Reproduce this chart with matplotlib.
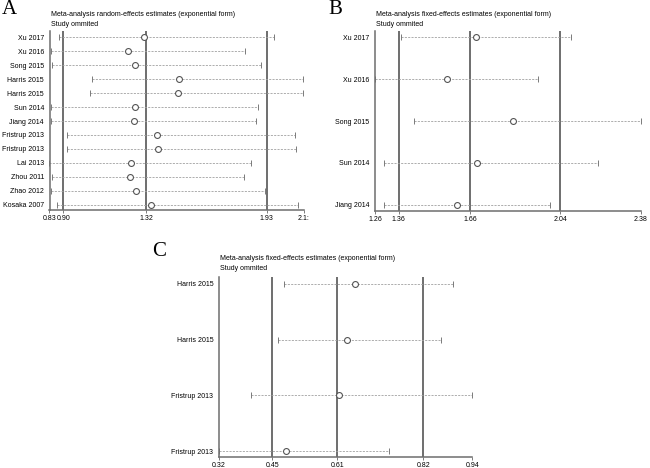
import matplotlib
matplotlib.use("Agg")
import matplotlib.pyplot as plt

# ---------------- data ----------------
a_studies = ["Xu 2017", "Xu 2016", "Song 2015", "Harris 2015", "Harris 2015", "Sun 2014",
             "Jiang 2014", "Fristrup 2013", "Fristrup 2013", "Lai 2013", "Zhou 2011",
             "Zhao 2012", "Kosaka 2007"]
a_est = [1.31, 1.23, 1.265, 1.488, 1.479, 1.262, 1.258, 1.377, 1.382, 1.245, 1.238, 1.27, 1.347]
a_lo = [0.876, 0.84, 0.843, 1.046, 1.036, 0.84, 0.84, 0.917, 0.92, 0.83, 0.845, 0.84, 0.87]
a_hi = [1.97, 1.82, 1.90, 2.116, 2.115, 1.888, 1.878, 2.074, 2.077, 1.85, 1.815, 1.92, 2.09]
a_ticks = [0.83, 0.90, 1.32, 1.93, 2.12]
a_ticklabels = ["0.83", "0.90", "1.32", "1.93", "2.1:"]
a_ref = [0.90, 1.32, 1.93]

b_studies = ["Xu 2017", "Xu 2016", "Song 2015", "Sun 2014", "Jiang 2014"]
b_est = [1.687, 1.564, 1.842, 1.688, 1.605]
b_lo = [1.369, 1.26, 1.426, 1.296, 1.296]
b_hi = [2.087, 1.945, 2.38, 2.199, 1.996]
b_ticks = [1.26, 1.36, 1.66, 2.04, 2.38]
b_ticklabels = ["1.26", "1.36", "1.66", "2.04", "2.38"]
b_ref = [1.36, 1.66, 2.04]

c_studies = ["Harris 2015", "Harris 2015", "Fristrup 2013", "Fristrup 2013"]
c_est = [0.654, 0.633, 0.613, 0.483]
c_lo = [0.479, 0.464, 0.398, 0.32]
c_hi = [0.892, 0.864, 0.94, 0.735]
c_ticks = [0.32, 0.45, 0.61, 0.82, 0.94]
c_ticklabels = ["0.32", "0.45", "0.61", "0.82", "0.94"]
c_ref = [0.45, 0.61, 0.82]

titles = {"A": "Meta-analysis random-effects estimates (exponential form)",
          "B": "Meta-analysis fixed-effects estimates (exponential form)",
          "C": "Meta-analysis fixed-effects estimates (exponential form)"}
subtitle = "Study ommited"

plt.rcParams['font.family'] = ['Liberation Sans', 'DejaVu Sans']
FS = 5.0

W, H = 650, 468
fig = plt.figure(figsize=(6.5, 4.68), dpi=100)


def px_axes(left, right, top, bottom):
    return fig.add_axes([left / W, 1 - bottom / H, (right - left) / W, (bottom - top) / H])


def draw_panel(ax, studies, est, lo, hi, ticks, ticklabels, ref, xlim, ypad_top, ypad_bot):
    n = len(studies)
    ys = list(range(n))
    for r in ref:
        ax.axvline(r, color="#6e6e6e", lw=1.4, zorder=1)
    for y, l, h in zip(ys, lo, hi):
        ax.plot([l, h], [y, y], color="#a0a0a0", lw=0.6, ls=(0, (2.5, 1.5)), zorder=2)
    ax.scatter(lo, ys, marker="|", s=14, color="#7a7a7a", linewidths=0.7, zorder=2, clip_on=False)
    ax.scatter(hi, ys, marker="|", s=14, color="#7a7a7a", linewidths=0.7, zorder=2, clip_on=False)
    ax.scatter(est, ys, s=18, facecolors="white", edgecolors="#555555", linewidths=0.8, zorder=3)
    ax.set_xlim(*xlim)
    ax.set_ylim(n - 1 + ypad_bot, -ypad_top)
    ax.set_yticks(ys)
    ax.set_yticklabels(studies, fontsize=FS)
    ax.set_xticks(ticks)
    ax.set_xticklabels(ticklabels, fontsize=FS)
    ax.tick_params(axis="x", length=2, width=0.6, color="#666666", pad=2)
    ax.tick_params(axis="y", length=0, pad=4)
    for s in ["top", "right"]:
        ax.spines[s].set_visible(False)
    for s in ["left", "bottom"]:
        ax.spines[s].set_color("#6e6e6e")
        ax.spines[s].set_linewidth(1.1)


# Panel A
axA = px_axes(49.5, 304, 31, 209.5)
draw_panel(axA, a_studies, a_est, a_lo, a_hi, a_ticks, a_ticklabels, a_ref,
           (0.83, 2.12), 0.45, 0.34)
# Panel B
axB = px_axes(375, 641, 31, 210.7)
draw_panel(axB, b_studies, b_est, b_lo, b_hi, b_ticks, b_ticklabels, b_ref,
           (1.26, 2.38), 0.15, 0.14)
# Panel C
axC = px_axes(219, 472.3, 277, 456.7)
draw_panel(axC, c_studies, c_est, c_lo, c_hi, c_ticks, c_ticklabels, c_ref,
           (0.32, 0.94), 0.12, 0.10)


def ftext(x, y, s, **kw):
    fig.text(x / W, 1 - y / H, s, **kw)


ftext(51, 15, titles["A"], fontsize=FS, va="center", ha="left")
ftext(51, 24.5, subtitle, fontsize=FS, va="center", ha="left")
ftext(376, 15, titles["B"], fontsize=FS, va="center", ha="left")
ftext(376, 24.5, subtitle, fontsize=FS, va="center", ha="left")
ftext(220, 258.5, titles["C"], fontsize=FS, va="center", ha="left")
ftext(220, 268.5, subtitle, fontsize=FS, va="center", ha="left")

ftext(2, 10, "A", fontsize=15, family=["Liberation Serif"], va="center", ha="left")
ftext(328, 10, "B", fontsize=15, family=["Liberation Serif"], va="center", ha="left")
ftext(152, 252, "C", fontsize=15, family=["Liberation Serif"], va="center", ha="left")

fig.savefig("out.png", dpi=100, facecolor="white")
